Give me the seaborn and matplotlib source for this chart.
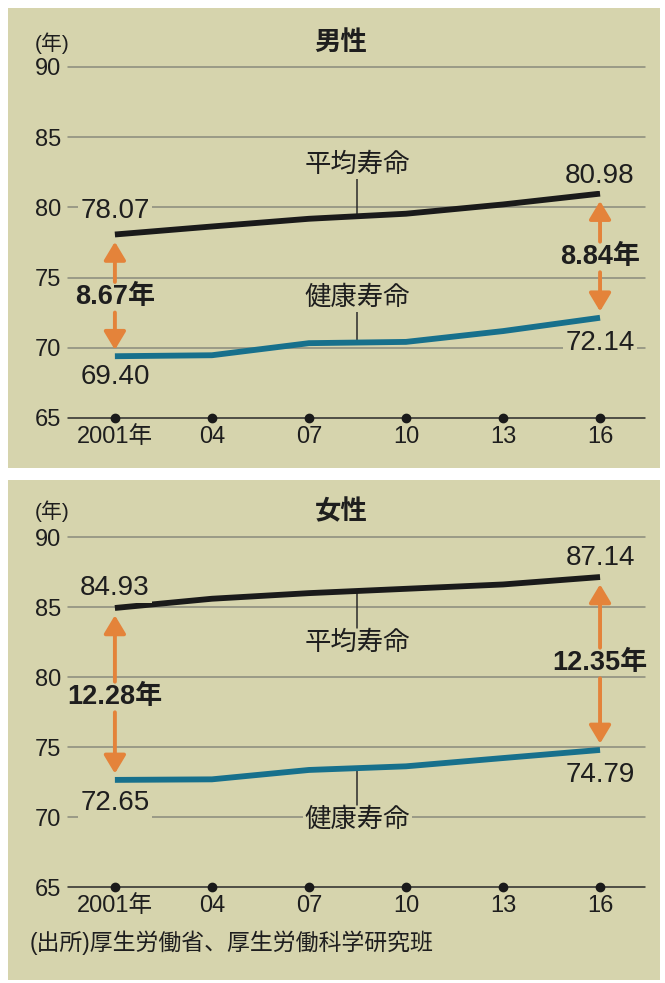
import numpy as np
import pandas as pd
import matplotlib
matplotlib.use("Agg")
import matplotlib.pyplot as plt
from matplotlib.patches import Rectangle
import seaborn as sns

# ---------------- data ----------------
years = [2001, 2004, 2007, 2010, 2013, 2016]
year_labels = ["2001年", "04", "07", "10", "13", "16"]
male_avg = [78.07, 78.64, 79.19, 79.55, 80.21, 80.98]
male_healthy = [69.40, 69.47, 70.33, 70.42, 71.19, 72.14]
female_avg = [84.93, 85.59, 85.99, 86.30, 86.61, 87.14]
female_healthy = [72.65, 72.69, 73.36, 73.62, 74.21, 74.79]
male_gaps = ["8.67年", "8.84年"]
female_gaps = ["12.28年", "12.35年"]
titles = ["男性", "女性"]
yticks = [65, 70, 75, 80, 85, 90]
series_names = ["平均寿命", "健康寿命"]
source = "(出所)厚生労働省、厚生労働科学研究班"

sns.set_style("white")
FAM = ["Liberation Sans", "Noto Sans CJK JP", "DejaVu Sans"]
plt.rcParams["font.family"] = FAM

BG = "#d6d4ad"
TXT = "#1e1e1e"
BLACK = "#1a1a1a"
TEAL = "#17708c"
ORANGE = "#e4833a"
GRID = "#8a8a7c"

fig = plt.figure(figsize=(6.65, 9.83), dpi=100)
W, H = 665, 983

def frect(x0, y0, x1, y1):
    return [x0 / W, 1 - y1 / H, (x1 - x0) / W, (y1 - y0) / H]

# panel backgrounds
for (y0, y1) in [(8, 468), (480, 980)]:
    r = frect(8, y0, 660, y1)
    fig.patches.append(Rectangle((r[0], r[1]), r[2], r[3], transform=fig.transFigure,
                                 facecolor=BG, edgecolor="none", zorder=-10))

panels = [
    dict(rect=frect(68, 67, 645, 418), avg=male_avg, hl=male_healthy, gaps=male_gaps,
         title=titles[0], title_y=42, unit_y=43,
         off_avg=(23, 18), off_hl=(-21, -25),
         gap_y=(73.6, 76.47),
         name_avg_y=83.02, name_hl_y=73.55,
         lead_avg=82.1, lead_hl=72.7),
    dict(rect=frect(68, 537, 645, 887), avg=female_avg, hl=female_healthy, gaps=female_gaps,
         title=titles[1], title_y=512, unit_y=511,
         off_avg=(20, 19), off_hl=(-23, -25),
         gap_y=(78.57, 81.0),
         name_avg_y=82.43, name_hl_y=69.79,
         lead_avg=83.5, lead_hl=70.86),
]

x_lab = 2008.5

for p in panels:
    ax = fig.add_axes(p["rect"])
    ax.set_zorder(1)
    ax.set_facecolor("none")
    ax.set_xlim(1999.55, 2017.39)
    ax.set_ylim(65, 90)
    for s in ax.spines.values():
        s.set_visible(False)
    # gridlines
    for yv in yticks[1:]:
        ax.axhline(yv, color=GRID, lw=1.1, zorder=1, clip_on=False)
    ax.axhline(65, color="#2a2a2a", lw=1.1, zorder=1, clip_on=False)
    ax.plot(years, [65] * len(years), ls="none", marker="o", ms=6,
            color="#1a1a1a", clip_on=False, zorder=3)

    df = pd.DataFrame({"year": years * 2,
                       "value": p["avg"] + p["hl"],
                       "series": [series_names[0]] * 6 + [series_names[1]] * 6})
    sns.lineplot(data=df, x="year", y="value", hue="series",
                 palette={series_names[0]: BLACK, series_names[1]: TEAL},
                 lw=4.2, ax=ax, legend=False, zorder=4)
    for ln in ax.lines[-2:]:
        ln.set_solid_capstyle("butt")
    ax.set_xlabel("")
    ax.set_ylabel("")

    ax.set_yticks(yticks)
    ax.set_yticklabels([str(v) for v in yticks], fontsize=17, color=TXT)
    ax.set_xticks(years)
    ax.set_xticklabels(year_labels, fontsize=17, color=TXT)
    ax.tick_params(axis="y", length=0, pad=5)
    ax.tick_params(axis="x", length=0, pad=6)

    bbox = dict(boxstyle="square,pad=0.08", facecolor=BG, edgecolor="none")

    # value labels
    for i, (oa, oh) in zip([0, -1], zip(p["off_avg"], p["off_hl"])):
        ax.annotate(f"{p['avg'][i]:.2f}", xy=(years[i], p["avg"][i]),
                    xytext=(0, oa), textcoords="offset pixels",
                    ha="center", va="center", fontsize=20, color=TXT,
                    bbox=bbox, zorder=5)
        ax.annotate(f"{p['hl'][i]:.2f}", xy=(years[i], p["hl"][i]),
                    xytext=(0, oh), textcoords="offset pixels",
                    ha="center", va="center", fontsize=20, color=TXT,
                    bbox=bbox, zorder=5)

    # gap arrows (two arrows pointing out from the label)
    for i, gy, g in zip([0, -1], p["gap_y"], p["gaps"]):
        top = p["avg"][i] - 0.52
        bot = p["hl"][i] + 0.45
        for tip in (top, bot):
            ax.annotate("", xy=(years[i], tip), xytext=(years[i], gy),
                        arrowprops=dict(arrowstyle="-|>,head_length=0.55,head_width=0.33",
                                        mutation_scale=20, color=ORANGE, lw=2.8,
                                        shrinkA=11, shrinkB=0),
                        zorder=5)
        ax.text(years[i], gy, g, ha="center", va="center", fontsize=19.5,
                fontweight="bold", color=TXT, zorder=6)

    # series labels with leader lines
    ya = float(np.interp(x_lab, years, p["avg"]))
    yh = float(np.interp(x_lab, years, p["hl"]))
    ax.plot([x_lab, x_lab], [ya, p["lead_avg"]], color="#2a2a2a", lw=1.1, zorder=3)
    ax.plot([x_lab, x_lab], [yh, p["lead_hl"]], color="#2a2a2a", lw=1.1, zorder=3)
    ax.text(x_lab, p["name_avg_y"], series_names[0], ha="center", va="center",
            fontsize=19, color=TXT, bbox=bbox, zorder=6)
    ax.text(x_lab, p["name_hl_y"], series_names[1], ha="center", va="center",
            fontsize=19, color=TXT, bbox=bbox, zorder=6)

    # title and unit
    fig.text(341 / W, 1 - p["title_y"] / H, p["title"], ha="center", va="center",
             fontsize=19, fontweight="bold", color=TXT)
    fig.text(35 / W, 1 - p["unit_y"] / H, "(年)", ha="left", va="center",
             fontsize=15, color=TXT)

fig.text(30 / W, 1 - 943 / H, source, ha="left", va="center", fontsize=16.5, color=TXT)

fig.savefig("out.png", dpi=100)
